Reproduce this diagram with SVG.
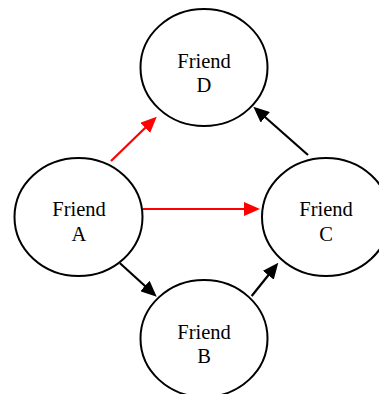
<svg xmlns="http://www.w3.org/2000/svg" width="379" height="394" viewBox="0 0 379 394">
<style>
.node ellipse{fill:#fff;stroke:#000;stroke-width:2}
.node text{font-family:"Liberation Serif","Times New Roman",serif;font-size:20.5px;fill:#000;text-anchor:middle}
.edge{stroke-width:2.2;fill:none}
.red{stroke:#ff0000}
.blk{stroke:#000}
</style>
<defs>
<marker id="ar" markerUnits="userSpaceOnUse" markerWidth="16" markerHeight="14" refX="8" refY="7" orient="auto"><path d="M0,0 L16,7 L0,14 z" fill="#ff0000"/></marker>
<marker id="ab" markerUnits="userSpaceOnUse" markerWidth="16" markerHeight="14" refX="8" refY="7" orient="auto"><path d="M0,0 L16,7 L0,14 z" fill="#000"/></marker>
</defs>
<rect width="379" height="394" fill="#fff"/>
<g id="connectors">
<line class="edge red" x1="111" y1="161" x2="151" y2="122.3" marker-end="url(#ar)"/>
<line class="edge blk" x1="308" y1="155" x2="259.3" y2="112" marker-end="url(#ab)"/>
<line class="edge red" x1="143" y1="209" x2="252" y2="209" marker-end="url(#ar)"/>
<line class="edge blk" x1="120" y1="263.3" x2="150.8" y2="291.3" marker-end="url(#ab)"/>
<line class="edge blk" x1="251.7" y1="296" x2="273.3" y2="269" marker-end="url(#ab)"/>
</g>
<g id="nodeD" class="node"><ellipse cx="204" cy="67.5" rx="63.5" ry="58.5"/><text x="204" y="67.5">Friend</text><text x="204" y="92.3">D</text></g>
<g id="nodeA" class="node"><ellipse cx="78.5" cy="217" rx="64" ry="59"/><text x="79" y="216">Friend</text><text x="79" y="241">A</text></g>
<g id="nodeC" class="node"><ellipse cx="326" cy="217" rx="64" ry="59"/><text x="326" y="216">Friend</text><text x="326" y="241">C</text></g>
<g id="nodeB" class="node"><ellipse cx="204" cy="338.5" rx="63.5" ry="58.5"/><text x="204" y="339">Friend</text><text x="204" y="363.3">B</text></g>
</svg>
